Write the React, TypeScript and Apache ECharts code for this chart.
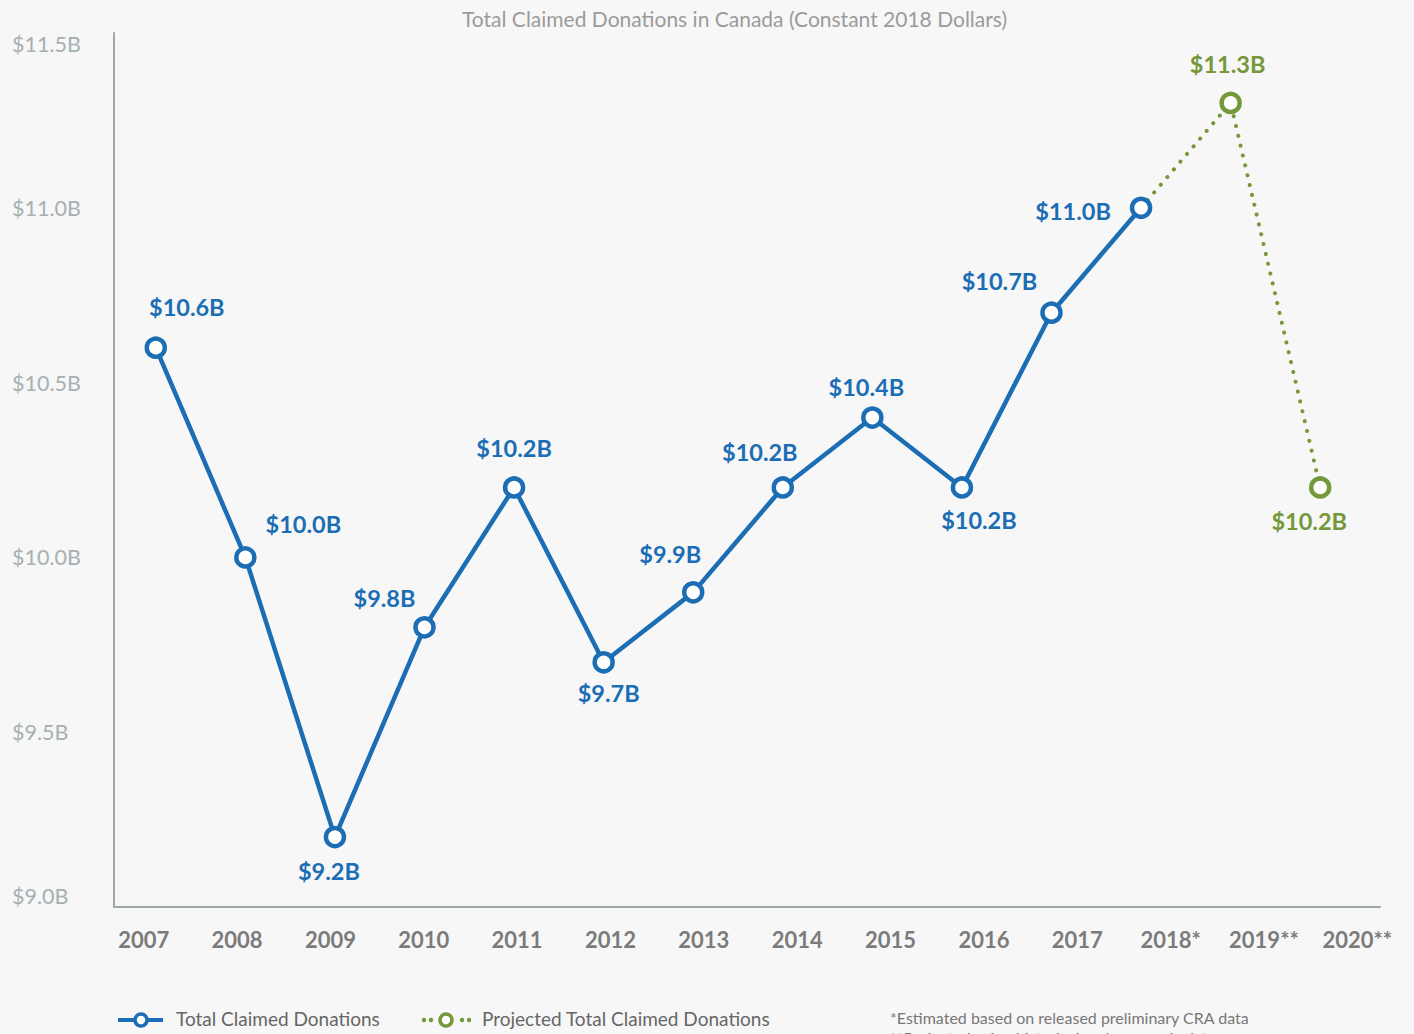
import React, { useEffect, useRef } from "react";
import * as echarts from "echarts";

const categories = ["2007", "2008", "2009", "2010", "2011", "2012", "2013", "2014", "2015", "2016", "2017", "2018*", "2019**", "2020**"];
const actualValues: (number | null)[] = [10.6, 10.0, 9.2, 9.8, 10.2, 9.7, 9.9, 10.2, 10.4, 10.2, 10.7, 11.0, null, null];
const projectedValues: (number | null)[] = [null, null, null, null, null, null, null, null, null, null, null, 11.0, 11.3, 10.2];
const yTicks = [9.0, 9.5, 10.0, 10.5, 11.0, 11.5];
const labelOffsets: [number, number][] = [
  [31, -41], [58, -33], [-6, 34], [-40, -29], [0, -39], [5, 31], [-23, -38],
  [-23, -35], [-6, -31], [17, 33], [-52, -32], [-68, 3], [-3, -39], [-11, 34],
];
const seriesNames = ["Total Claimed Donations", "Projected Total Claimed Donations"];
const footnotes = ["*Estimated based on released preliminary CRA data", "**Projected using historical and economic data"];

const BLUE = "#1b6db4";
const GREEN = "#74983a";
const FONT = "Lato, 'Open Sans', sans-serif";

const fmt = (v: number) => `$${v.toFixed(1)}B`;

export default function App() {
  const ref = useRef<HTMLDivElement>(null);
  useEffect(() => {
    document.body.style.margin = "0";
    const chart = echarts.init(ref.current!, null, { renderer: "svg" });
    const yMin = yTicks[0];
    const yMax = yTicks[yTicks.length - 1];
    const top = 33;
    const bottom = 127;

    const mkData = (vals: (number | null)[], hideIdx: number[] = []) =>
      vals.map((v, i) => {
        if (v === null) return null;
        const show = !hideIdx.includes(i);
        return {
          value: v,
          symbol: show ? "circle" : "none",
          label: { show, position: "inside", offset: labelOffsets[i] },
        };
      });

    const legendY = 1020;
    const greenDots = [424, 431, 462, 469].map((x) => ({
      type: "circle",
      shape: { cx: x, cy: legendY, r: 2.2 },
      style: { fill: GREEN },
    }));

    chart.setOption({
      animation: false,
      backgroundColor: "#f7f7f7",
      textStyle: { fontFamily: FONT },
      title: {
        text: "Total Claimed Donations in Canada (Constant 2018 Dollars)",
        left: 457,
        top: 3,
        textStyle: { fontFamily: FONT, fontSize: 21, fontWeight: "normal", color: "#9b9b9b" },
      },
      grid: [
        { left: 111, right: 49, top, bottom },
        { left: 114, right: 34, top, bottom },
        { left: 97, right: 10, top, bottom },
      ],
      xAxis: [
        { type: "category", gridIndex: 0, data: categories, boundaryGap: true, show: false },
        {
          type: "value", gridIndex: 1, min: 0, max: 1,
          axisLine: { show: true, lineStyle: { color: "#9ea8aa", width: 2 } },
          axisTick: { show: false }, axisLabel: { show: false }, splitLine: { show: false },
        },
        {
          type: "category", gridIndex: 2, data: categories, boundaryGap: true,
          axisLine: { show: false }, axisTick: { show: false }, splitLine: { show: false },
          axisLabel: { margin: 21, fontFamily: FONT, fontSize: 22, fontWeight: "bold", color: "#7b7b7b", interval: 0 },
        },
      ],
      yAxis: [
        { type: "value", gridIndex: 0, min: yMin, max: yMax, show: false },
        {
          type: "value", gridIndex: 1, min: yMin, max: yMax, interval: 0.5,
          axisLine: { show: true, lineStyle: { color: "#9ea8aa", width: 2 } },
          axisTick: { show: false }, splitLine: { show: false },
          axisLabel: {
            formatter: (v: number) => fmt(v),
            align: "left",
            margin: 102,
            fontFamily: FONT,
            fontSize: 21.5,
            color: "#a6b0b3",
            verticalAlignMinLabel: "bottom",
            verticalAlignMaxLabel: "top",
          },
        },
        { type: "value", gridIndex: 2, min: yMin, max: yMax, show: false },
      ],
      graphic: [
        {
          type: "line",
          shape: { x1: 118, y1: legendY, x2: 163, y2: legendY },
          style: { stroke: BLUE, lineWidth: 4 },
        },
        {
          type: "circle",
          shape: { cx: 141, cy: legendY, r: 6 },
          style: { fill: "#fff", stroke: BLUE, lineWidth: 3.5 },
        },
        {
          type: "text", left: 176, top: legendY - 11,
          style: { text: seriesNames[0], fontFamily: FONT, fontSize: 19, fill: "#666" },
        },
        ...greenDots,
        {
          type: "circle",
          shape: { cx: 446, cy: legendY, r: 6 },
          style: { fill: "#fff", stroke: GREEN, lineWidth: 3.5 },
        },
        {
          type: "text", left: 482, top: legendY - 11,
          style: { text: seriesNames[1], fontFamily: FONT, fontSize: 19, fill: "#666" },
        },
        {
          type: "text", left: 890, top: 1009,
          style: { text: footnotes[0], fontFamily: FONT, fontSize: 16, fill: "#777" },
        },
        {
          type: "text", left: 890, top: 1029,
          style: { text: footnotes[1], fontFamily: FONT, fontSize: 16, fill: "#777" },
        },
      ],
      series: [
        {
          name: seriesNames[1],
          type: "line",
          xAxisIndex: 0,
          yAxisIndex: 0,
          z: 2,
          data: mkData(projectedValues, [11]),
          symbolSize: 18,
          showAllSymbol: true,
          itemStyle: { color: "#fff", borderColor: GREEN, borderWidth: 4.5 },
          lineStyle: { color: GREEN, width: 4, type: [0.1, 10], cap: "round" },
          label: {
            formatter: (p: any) => fmt(p.value),
            fontFamily: FONT, fontSize: 23.5, fontWeight: "bold", color: GREEN,
          },
        },
        {
          name: seriesNames[0],
          type: "line",
          xAxisIndex: 0,
          yAxisIndex: 0,
          z: 3,
          data: mkData(actualValues),
          symbolSize: 18,
          showAllSymbol: true,
          itemStyle: { color: "#fff", borderColor: BLUE, borderWidth: 4.5 },
          lineStyle: { color: BLUE, width: 4.5 },
          label: {
            formatter: (p: any) => fmt(p.value),
            fontFamily: FONT, fontSize: 23.5, fontWeight: "bold", color: BLUE,
          },
        },
      ],
    });
    return () => chart.dispose();
  }, []);
  return <div ref={ref} style={{ width: 1414, height: 1034, position: "absolute", left: 0, top: 0 }} />;
}
